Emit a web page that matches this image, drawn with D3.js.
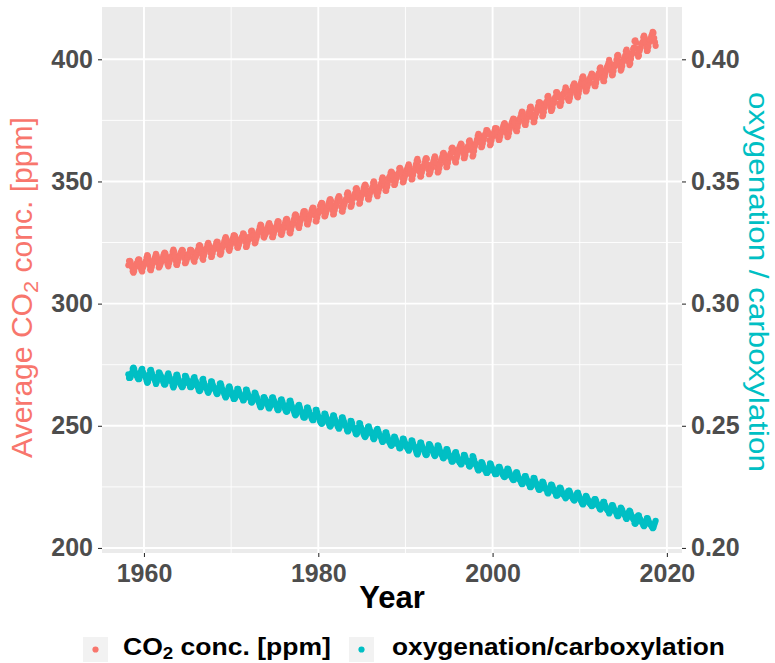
<!DOCTYPE html>
<html>
<head>
<meta charset="utf-8">
<script src="https://cdn.jsdelivr.net/npm/d3@7"></script>
<style>
  html, body { margin: 0; padding: 0; background: #ffffff; }
  svg { display: block; font-family: "Liberation Sans", Arial, Helvetica, sans-serif; }
</style>
</head>
<body>
<svg id="chart" width="775" height="663"></svg>
<script>
// Monthly mean CO2 at Mauna Loa, one row per year, starting March 1958.
const startYear = 1958, startMonth = 3;
const co2Ppm = [
  315.71, 317.45, 317.50, 317.10, 315.86, 314.93, 313.20, 312.66, 313.33, 314.67,
  315.42, 316.31, 316.50, 317.56, 318.13, 318.00, 316.39, 314.65, 313.68, 313.18, 314.66, 315.43,
  316.27, 316.81, 317.42, 318.87, 319.87, 319.43, 318.01, 315.74, 314.00, 313.68, 314.84, 316.03,
  316.73, 317.54, 318.38, 319.31, 320.42, 319.61, 318.42, 316.63, 314.83, 315.16, 315.94, 316.85,
  317.78, 318.40, 319.53, 320.42, 320.85, 320.45, 319.45, 317.25, 316.11, 315.27, 316.53, 317.53,
  318.58, 318.92, 319.70, 321.22, 322.08, 321.31, 319.58, 317.61, 316.05, 315.83, 316.91, 318.20,
  319.41, 320.07, 320.74, 321.40, 322.06, 321.73, 320.27, 318.54, 316.54, 316.71, 317.53, 318.55,
  319.27, 320.28, 320.73, 321.97, 322.00, 321.71, 321.05, 318.71, 317.66, 317.14, 318.70, 319.25,
  320.46, 321.43, 322.23, 323.54, 323.91, 323.59, 322.24, 320.20, 318.48, 317.94, 319.63, 320.87,
  322.17, 322.34, 322.88, 324.25, 324.83, 323.93, 322.38, 320.76, 319.10, 319.24, 320.56, 321.80,
  322.40, 322.99, 323.73, 324.86, 325.40, 325.20, 323.98, 321.95, 320.18, 320.09, 321.16, 322.74,
  323.83, 324.26, 325.47, 326.50, 327.21, 326.54, 325.72, 323.50, 322.22, 321.62, 322.69, 323.95,
  324.89, 325.82, 326.77, 327.97, 327.91, 327.50, 326.18, 324.53, 322.93, 322.90, 323.85, 324.96,
  326.01, 326.51, 327.01, 327.62, 328.76, 328.40, 327.20, 325.27, 323.20, 323.40, 324.63, 325.85,
  326.60, 327.47, 327.58, 329.56, 329.90, 328.92, 327.88, 326.16, 324.68, 325.04, 326.34, 327.39,
  328.37, 329.40, 330.14, 331.33, 332.31, 331.90, 330.70, 329.15, 327.35, 327.02, 327.99, 328.48,
  329.18, 330.55, 331.32, 332.48, 332.92, 332.08, 331.01, 329.23, 327.27, 327.21, 328.29, 329.41,
  330.23, 331.25, 331.87, 333.14, 333.80, 333.43, 331.73, 329.90, 328.40, 328.17, 329.32, 330.59,
  331.58, 332.39, 333.33, 334.41, 334.71, 334.17, 332.89, 330.77, 329.14, 328.78, 330.14, 331.52,
  332.75, 333.24, 334.53, 335.90, 336.57, 336.10, 334.76, 332.59, 331.42, 330.98, 332.24, 333.68,
  334.80, 335.22, 336.47, 337.59, 337.84, 337.72, 336.37, 334.51, 332.60, 332.38, 333.75, 334.78,
  336.05, 336.59, 337.79, 338.71, 339.30, 339.12, 337.56, 335.92, 333.75, 333.70, 335.12, 336.56,
  337.84, 338.19, 339.91, 340.60, 341.29, 341.00, 339.39, 337.43, 335.72, 335.84, 336.93, 338.04,
  339.06, 340.30, 341.21, 342.33, 342.74, 342.08, 340.32, 338.26, 336.52, 336.68, 338.19, 339.44,
  340.57, 341.44, 342.53, 343.39, 343.96, 343.18, 341.88, 339.65, 337.81, 337.69, 339.09, 340.32,
  341.20, 342.35, 342.93, 344.77, 345.58, 345.14, 343.81, 342.21, 339.69, 339.82, 340.98, 342.82,
  343.52, 344.33, 345.11, 346.88, 347.25, 346.62, 345.22, 343.11, 340.90, 341.18, 342.80, 344.04,
  344.79, 345.82, 347.25, 348.17, 348.74, 348.07, 346.38, 344.51, 342.92, 342.62, 344.06, 345.38,
  346.11, 346.78, 347.68, 349.37, 350.03, 349.37, 347.76, 345.73, 344.68, 343.99, 345.48, 346.72,
  347.84, 348.29, 349.23, 350.80, 351.66, 351.07, 349.33, 347.92, 346.27, 346.18, 347.64, 348.78,
  350.25, 351.54, 352.05, 353.41, 354.04, 353.62, 352.22, 350.27, 348.55, 348.72, 349.91, 351.18,
  352.60, 352.92, 353.53, 355.26, 355.52, 354.97, 353.75, 351.52, 349.64, 349.83, 351.14, 352.37,
  353.50, 354.55, 355.23, 356.04, 357.00, 356.07, 354.67, 352.76, 350.82, 351.04, 352.69, 354.07,
  354.59, 355.63, 357.03, 358.48, 359.22, 358.12, 356.06, 353.92, 352.05, 352.11, 353.64, 354.89,
  355.88, 356.63, 357.72, 359.07, 359.58, 359.17, 356.94, 354.92, 352.94, 353.23, 354.09, 355.33,
  356.63, 357.10, 358.32, 359.41, 360.23, 359.55, 357.53, 355.48, 353.67, 353.95, 355.30, 356.78,
  358.34, 358.89, 359.95, 361.25, 361.67, 360.94, 359.55, 357.49, 355.84, 356.00, 357.59, 359.05,
  359.98, 361.03, 361.66, 363.48, 363.82, 363.30, 361.94, 359.50, 358.11, 357.80, 359.61, 360.74,
  362.09, 363.29, 364.06, 364.76, 365.45, 365.01, 363.70, 361.54, 359.51, 359.65, 360.80, 362.38,
  363.23, 364.06, 364.61, 366.40, 366.84, 365.68, 364.52, 362.57, 360.24, 360.83, 362.49, 364.34,
  365.18, 365.98, 367.13, 368.61, 369.49, 368.95, 367.74, 365.79, 364.01, 364.35, 365.52, 366.93,
  368.18, 369.07, 369.68, 370.99, 370.96, 370.30, 369.45, 366.90, 364.81, 365.37, 366.72, 368.10,
  369.29, 369.55, 370.60, 371.82, 371.58, 371.70, 369.86, 368.13, 367.00, 367.03, 368.37, 369.67,
  370.59, 371.51, 372.43, 373.37, 373.85, 373.21, 371.51, 369.61, 368.18, 368.45, 369.76, 371.24,
  372.53, 373.20, 374.12, 375.02, 375.76, 375.52, 374.01, 371.85, 370.75, 370.55, 372.25, 373.79,
  374.88, 375.64, 376.45, 377.73, 378.60, 378.28, 376.70, 374.38, 373.17, 373.14, 374.66, 375.99,
  377.00, 377.87, 378.88, 380.35, 380.62, 379.69, 377.47, 376.01, 374.25, 374.46, 376.16, 377.51,
  378.46, 379.73, 380.77, 382.29, 382.45, 382.21, 380.74, 378.74, 376.70, 377.00, 378.35, 380.11,
  381.38, 382.19, 382.67, 384.61, 385.03, 384.05, 382.46, 380.41, 378.85, 379.13, 380.15, 381.82,
  382.89, 383.90, 384.58, 386.50, 386.56, 386.10, 384.50, 381.99, 380.96, 381.12, 382.45, 383.95,
  385.52, 385.82, 386.03, 387.21, 388.54, 387.76, 386.36, 384.09, 383.18, 382.99, 384.19, 385.56,
  386.94, 387.48, 388.82, 389.55, 390.14, 389.48, 388.03, 386.11, 384.74, 384.43, 386.02, 387.42,
  388.71, 390.20, 391.17, 392.46, 393.00, 392.15, 390.20, 388.35, 386.85, 387.24, 388.67, 389.79,
  391.33, 391.86, 392.60, 393.25, 394.19, 393.74, 392.51, 390.13, 389.08, 389.00, 390.28, 391.86,
  393.12, 393.86, 394.40, 396.18, 396.74, 395.71, 394.36, 392.39, 391.11, 391.05, 392.98, 394.34,
  395.55, 396.80, 397.43, 398.41, 399.78, 398.60, 397.32, 395.20, 393.45, 393.70, 395.16, 396.84,
  397.85, 398.01, 399.77, 401.38, 401.78, 401.25, 399.10, 397.03, 395.38, 396.03, 397.28, 398.91,
  399.98, 400.28, 401.54, 403.28, 403.96, 402.80, 401.31, 398.93, 397.63, 398.29, 400.16, 401.85,
  402.52, 404.04, 404.83, 407.42, 407.70, 406.81, 404.39, 402.25, 401.03, 401.57, 403.53, 404.48,
  406.13, 406.42, 407.18, 409.00, 409.65, 408.84, 407.07, 405.07, 403.38, 403.64, 405.14, 406.82,
  407.96, 408.32, 409.41, 410.24, 411.24, 410.79, 408.71, 406.99, 405.51
];

// Oxygenation / carboxylation ratio for the same months.
const oxyCarbRatio = [
  0.2711, 0.2696, 0.2696, 0.2699, 0.2710, 0.2718, 0.2733, 0.2738, 0.2732, 0.2720,
  0.2714, 0.2706, 0.2705, 0.2695, 0.2691, 0.2692, 0.2706, 0.2720, 0.2729, 0.2733, 0.2720, 0.2714,
  0.2707, 0.2702, 0.2697, 0.2684, 0.2676, 0.2680, 0.2692, 0.2711, 0.2726, 0.2729, 0.2719, 0.2709,
  0.2703, 0.2696, 0.2689, 0.2681, 0.2671, 0.2678, 0.2688, 0.2703, 0.2719, 0.2716, 0.2709, 0.2702,
  0.2694, 0.2688, 0.2679, 0.2671, 0.2668, 0.2671, 0.2680, 0.2698, 0.2708, 0.2715, 0.2704, 0.2696,
  0.2687, 0.2684, 0.2678, 0.2665, 0.2657, 0.2664, 0.2679, 0.2695, 0.2708, 0.2710, 0.2701, 0.2690,
  0.2680, 0.2674, 0.2669, 0.2663, 0.2658, 0.2661, 0.2673, 0.2687, 0.2704, 0.2703, 0.2696, 0.2687,
  0.2681, 0.2673, 0.2669, 0.2659, 0.2658, 0.2661, 0.2666, 0.2686, 0.2695, 0.2699, 0.2686, 0.2681,
  0.2671, 0.2663, 0.2656, 0.2646, 0.2642, 0.2645, 0.2656, 0.2673, 0.2688, 0.2692, 0.2678, 0.2668,
  0.2657, 0.2656, 0.2651, 0.2640, 0.2635, 0.2642, 0.2655, 0.2669, 0.2682, 0.2681, 0.2670, 0.2660,
  0.2655, 0.2650, 0.2644, 0.2635, 0.2630, 0.2632, 0.2642, 0.2659, 0.2673, 0.2674, 0.2665, 0.2652,
  0.2643, 0.2640, 0.2630, 0.2622, 0.2616, 0.2621, 0.2628, 0.2646, 0.2656, 0.2661, 0.2653, 0.2642,
  0.2635, 0.2627, 0.2620, 0.2610, 0.2610, 0.2614, 0.2624, 0.2638, 0.2651, 0.2651, 0.2643, 0.2634,
  0.2626, 0.2622, 0.2618, 0.2613, 0.2604, 0.2606, 0.2616, 0.2632, 0.2648, 0.2647, 0.2637, 0.2627,
  0.2621, 0.2614, 0.2613, 0.2597, 0.2595, 0.2602, 0.2611, 0.2624, 0.2636, 0.2633, 0.2623, 0.2615,
  0.2607, 0.2599, 0.2593, 0.2583, 0.2576, 0.2579, 0.2588, 0.2601, 0.2615, 0.2617, 0.2610, 0.2606,
  0.2600, 0.2590, 0.2584, 0.2574, 0.2571, 0.2578, 0.2586, 0.2600, 0.2615, 0.2616, 0.2607, 0.2599,
  0.2592, 0.2584, 0.2579, 0.2569, 0.2564, 0.2567, 0.2580, 0.2595, 0.2606, 0.2608, 0.2599, 0.2589,
  0.2582, 0.2575, 0.2568, 0.2560, 0.2557, 0.2561, 0.2571, 0.2588, 0.2601, 0.2603, 0.2593, 0.2582,
  0.2572, 0.2569, 0.2559, 0.2548, 0.2543, 0.2547, 0.2557, 0.2574, 0.2583, 0.2586, 0.2576, 0.2565,
  0.2557, 0.2554, 0.2544, 0.2535, 0.2534, 0.2534, 0.2545, 0.2559, 0.2574, 0.2575, 0.2565, 0.2557,
  0.2547, 0.2543, 0.2534, 0.2527, 0.2523, 0.2524, 0.2536, 0.2548, 0.2565, 0.2565, 0.2554, 0.2543,
  0.2534, 0.2531, 0.2518, 0.2513, 0.2508, 0.2510, 0.2522, 0.2537, 0.2550, 0.2549, 0.2540, 0.2532,
  0.2525, 0.2515, 0.2509, 0.2500, 0.2497, 0.2502, 0.2515, 0.2531, 0.2543, 0.2542, 0.2531, 0.2522,
  0.2513, 0.2507, 0.2499, 0.2493, 0.2488, 0.2494, 0.2504, 0.2520, 0.2534, 0.2535, 0.2524, 0.2515,
  0.2509, 0.2500, 0.2496, 0.2483, 0.2477, 0.2480, 0.2490, 0.2501, 0.2520, 0.2519, 0.2510, 0.2497,
  0.2492, 0.2486, 0.2480, 0.2468, 0.2465, 0.2470, 0.2480, 0.2495, 0.2511, 0.2509, 0.2497, 0.2488,
  0.2483, 0.2475, 0.2465, 0.2458, 0.2454, 0.2459, 0.2471, 0.2485, 0.2496, 0.2498, 0.2488, 0.2478,
  0.2473, 0.2468, 0.2462, 0.2450, 0.2445, 0.2450, 0.2461, 0.2476, 0.2483, 0.2488, 0.2478, 0.2469,
  0.2461, 0.2458, 0.2451, 0.2440, 0.2434, 0.2438, 0.2450, 0.2460, 0.2472, 0.2473, 0.2462, 0.2454,
  0.2444, 0.2435, 0.2431, 0.2422, 0.2418, 0.2421, 0.2430, 0.2444, 0.2456, 0.2454, 0.2446, 0.2437,
  0.2428, 0.2425, 0.2421, 0.2409, 0.2408, 0.2411, 0.2420, 0.2435, 0.2448, 0.2447, 0.2438, 0.2429,
  0.2422, 0.2414, 0.2410, 0.2404, 0.2398, 0.2404, 0.2414, 0.2427, 0.2440, 0.2438, 0.2427, 0.2418,
  0.2414, 0.2407, 0.2398, 0.2388, 0.2383, 0.2390, 0.2404, 0.2419, 0.2431, 0.2431, 0.2420, 0.2412,
  0.2405, 0.2400, 0.2393, 0.2384, 0.2380, 0.2383, 0.2398, 0.2412, 0.2425, 0.2423, 0.2417, 0.2409,
  0.2400, 0.2397, 0.2389, 0.2382, 0.2376, 0.2381, 0.2394, 0.2408, 0.2420, 0.2418, 0.2409, 0.2399,
  0.2389, 0.2385, 0.2378, 0.2369, 0.2367, 0.2372, 0.2381, 0.2394, 0.2405, 0.2404, 0.2394, 0.2384,
  0.2378, 0.2371, 0.2367, 0.2355, 0.2353, 0.2356, 0.2365, 0.2381, 0.2390, 0.2392, 0.2380, 0.2373,
  0.2364, 0.2356, 0.2351, 0.2347, 0.2342, 0.2345, 0.2354, 0.2368, 0.2381, 0.2380, 0.2372, 0.2362,
  0.2357, 0.2351, 0.2348, 0.2336, 0.2333, 0.2341, 0.2348, 0.2361, 0.2376, 0.2372, 0.2361, 0.2349,
  0.2344, 0.2339, 0.2332, 0.2322, 0.2317, 0.2320, 0.2328, 0.2340, 0.2351, 0.2349, 0.2342, 0.2333,
  0.2325, 0.2319, 0.2315, 0.2307, 0.2307, 0.2312, 0.2317, 0.2333, 0.2346, 0.2343, 0.2334, 0.2325,
  0.2318, 0.2316, 0.2310, 0.2302, 0.2304, 0.2303, 0.2314, 0.2325, 0.2332, 0.2332, 0.2324, 0.2316,
  0.2310, 0.2304, 0.2298, 0.2293, 0.2290, 0.2294, 0.2304, 0.2316, 0.2325, 0.2323, 0.2315, 0.2306,
  0.2298, 0.2294, 0.2288, 0.2282, 0.2278, 0.2279, 0.2289, 0.2302, 0.2309, 0.2310, 0.2300, 0.2290,
  0.2283, 0.2279, 0.2274, 0.2266, 0.2261, 0.2263, 0.2272, 0.2286, 0.2294, 0.2294, 0.2285, 0.2277,
  0.2271, 0.2265, 0.2259, 0.2250, 0.2249, 0.2254, 0.2268, 0.2276, 0.2287, 0.2286, 0.2276, 0.2267,
  0.2262, 0.2254, 0.2248, 0.2239, 0.2238, 0.2240, 0.2248, 0.2260, 0.2272, 0.2270, 0.2262, 0.2252,
  0.2244, 0.2240, 0.2237, 0.2226, 0.2223, 0.2229, 0.2238, 0.2250, 0.2259, 0.2258, 0.2252, 0.2242,
  0.2236, 0.2230, 0.2226, 0.2215, 0.2214, 0.2217, 0.2226, 0.2241, 0.2247, 0.2246, 0.2238, 0.2229,
  0.2220, 0.2219, 0.2217, 0.2211, 0.2203, 0.2208, 0.2216, 0.2229, 0.2234, 0.2235, 0.2228, 0.2220,
  0.2212, 0.2209, 0.2202, 0.2197, 0.2194, 0.2198, 0.2206, 0.2217, 0.2225, 0.2227, 0.2217, 0.2209,
  0.2202, 0.2194, 0.2188, 0.2181, 0.2178, 0.2183, 0.2194, 0.2204, 0.2213, 0.2210, 0.2202, 0.2196,
  0.2187, 0.2184, 0.2180, 0.2177, 0.2171, 0.2174, 0.2181, 0.2194, 0.2200, 0.2200, 0.2193, 0.2184,
  0.2177, 0.2173, 0.2170, 0.2161, 0.2157, 0.2163, 0.2171, 0.2181, 0.2189, 0.2189, 0.2178, 0.2171,
  0.2164, 0.2157, 0.2154, 0.2149, 0.2141, 0.2147, 0.2154, 0.2166, 0.2175, 0.2174, 0.2166, 0.2157,
  0.2152, 0.2151, 0.2141, 0.2133, 0.2130, 0.2133, 0.2145, 0.2156, 0.2165, 0.2161, 0.2155, 0.2146,
  0.2140, 0.2138, 0.2132, 0.2123, 0.2119, 0.2125, 0.2133, 0.2146, 0.2153, 0.2149, 0.2139, 0.2130,
  0.2127, 0.2119, 0.2114, 0.2101, 0.2099, 0.2104, 0.2117, 0.2128, 0.2134, 0.2132, 0.2121, 0.2116,
  0.2108, 0.2106, 0.2102, 0.2093, 0.2089, 0.2094, 0.2103, 0.2113, 0.2122, 0.2121, 0.2113, 0.2104,
  0.2098, 0.2096, 0.2091, 0.2087, 0.2081, 0.2084, 0.2094, 0.2103, 0.2111
];

const yearTicks = [1960, 1980, 2000, 2020];
const yearMinorTicks = [1970, 1990, 2010];
const co2Ticks = [200, 250, 300, 350, 400];
const co2MinorTicks = [225, 275, 325, 375];
const ratioTicks = [0.20, 0.25, 0.30, 0.35, 0.40];
const seriesLabels = ["CO2 conc. [ppm]", "oxygenation/carboxylation"];

const co2Colour = "#F8766D";
const ratioColour = "#00BFC4";
const secondaryFactor = 1000;          // right axis = left axis / 1000

const svg = d3.select("#chart");
const panel = { left: 102, right: 682, top: 7, bottom: 553 };

const decimalYear = i => startYear + (startMonth - 1 + i + 0.5) / 12;
const co2Points = co2Ppm.map((v, i) => ({ t: decimalYear(i), v }));
const ratioPoints = oxyCarbRatio.map((v, i) => ({ t: decimalYear(i), v }));

// ggplot-style 5% padding around the data range
const expand = ([a, b], f = 0.05) => { const p = (b - a) * f; return [a - p, b + p]; };

const x = d3.scaleLinear()
  .domain(expand(d3.extent(co2Points, d => d.t)))
  .range([panel.left, panel.right]);

const yAll = co2Ppm.concat(oxyCarbRatio.map(r => r * secondaryFactor));
const y = d3.scaleLinear()
  .domain(expand(d3.extent(yAll)))
  .range([panel.bottom, panel.top]);
const yRatio = d3.scaleLinear()
  .domain(y.domain().map(v => v / secondaryFactor))
  .range(y.range());

// panel background and grid
svg.append("rect")
  .attr("x", panel.left).attr("y", panel.top)
  .attr("width", panel.right - panel.left).attr("height", panel.bottom - panel.top)
  .attr("fill", "#EBEBEB");

const grid = svg.append("g").attr("stroke", "#FFFFFF").attr("fill", "none");
grid.selectAll(".ymin").data(co2MinorTicks).join("line")
  .attr("x1", panel.left).attr("x2", panel.right)
  .attr("y1", d => y(d)).attr("y2", d => y(d)).attr("stroke-width", 0.9);
grid.selectAll(".xmin").data(yearMinorTicks).join("line")
  .attr("y1", panel.top).attr("y2", panel.bottom)
  .attr("x1", d => x(d)).attr("x2", d => x(d)).attr("stroke-width", 0.9);
grid.selectAll(".ymaj").data(co2Ticks).join("line")
  .attr("x1", panel.left).attr("x2", panel.right)
  .attr("y1", d => y(d)).attr("y2", d => y(d)).attr("stroke-width", 1.9);
grid.selectAll(".xmaj").data(yearTicks).join("line")
  .attr("y1", panel.top).attr("y2", panel.bottom)
  .attr("x1", d => x(d)).attr("x2", d => x(d)).attr("stroke-width", 1.9);

// points
const pointR = 3.1;
svg.append("g").selectAll("circle").data(co2Points).join("circle")
  .attr("cx", d => x(d.t)).attr("cy", d => y(d.v)).attr("r", pointR)
  .attr("fill", co2Colour);
svg.append("g").selectAll("circle").data(ratioPoints).join("circle")
  .attr("cx", d => x(d.t)).attr("cy", d => yRatio(d.v)).attr("r", pointR)
  .attr("fill", ratioColour);

// axes
function styleAxis(g) {
  g.select(".domain").remove();
  g.selectAll(".tick line").attr("stroke", "#333333").attr("stroke-width", 1.1);
  g.selectAll(".tick text")
    .attr("fill", "#4D4D4D")
    .attr("font-size", 25)
    .attr("font-weight", "bold")
    .attr("font-family", "\"Liberation Sans\", Arial, sans-serif");
}

svg.append("g")
  .attr("transform", `translate(${panel.left},0)`)
  .call(d3.axisLeft(y).tickValues(co2Ticks).tickFormat(d3.format("d")).tickSize(4).tickPadding(5))
  .call(styleAxis);

svg.append("g")
  .attr("transform", `translate(0,${panel.bottom})`)
  .call(d3.axisBottom(x).tickValues(yearTicks).tickFormat(d3.format("d")).tickSize(4).tickPadding(7))
  .call(styleAxis);

svg.append("g")
  .attr("transform", `translate(${panel.right},0)`)
  .call(d3.axisRight(yRatio).tickValues(ratioTicks).tickFormat(d3.format(".2f")).tickSize(4).tickPadding(5))
  .call(styleAxis);

// stretch a text element along its own baseline to a given length
function fitLength(text, target) {
  const len = text.node().getComputedTextLength();
  text.attr("transform", `scale(${target / len},1)`);
}

// axis titles
svg.append("text")
  .attr("x", (panel.left + panel.right) / 2).attr("y", 608)
  .attr("text-anchor", "middle")
  .attr("font-size", 31).attr("font-weight", "bold").attr("fill", "#000000")
  .text("Year");

const leftTitle = svg.append("g")
  .attr("transform", "translate(32,287.5) rotate(-90)")
  .append("text")
  .attr("text-anchor", "middle")
  .attr("font-size", 29).attr("fill", co2Colour);
leftTitle.append("tspan").text("Average CO");
leftTitle.append("tspan").attr("font-size", 21).attr("dy", 6).text("2");
leftTitle.append("tspan").attr("dy", -6).text(" conc. [ppm]");
fitLength(leftTitle, 341);

const rightTitle = svg.append("g")
  .attr("transform", "translate(749,282) rotate(90)")
  .append("text")
  .attr("text-anchor", "middle")
  .attr("font-size", 28).attr("fill", ratioColour)
  .text("oxygenation / carboxylation");
fitLength(rightTitle, 380);

// legend
const legendItems = [
  { label: seriesLabels[0], colour: co2Colour, keyX: 83, textX: 123, width: 208 },
  { label: seriesLabels[1], colour: ratioColour, keyX: 349, textX: 392, width: 333 }
];
const legend = svg.append("g");
legendItems.forEach(item => {
  legend.append("rect")
    .attr("x", item.keyX).attr("y", 637).attr("width", 25).attr("height", 25)
    .attr("fill", "#F2F2F2");
  legend.append("circle")
    .attr("cx", item.keyX + 12.5).attr("cy", 649.5).attr("r", pointR)
    .attr("fill", item.colour);
  const t = legend.append("g")
    .attr("transform", `translate(${item.textX},655)`)
    .append("text")
    .attr("font-size", 24).attr("font-weight", "bold").attr("fill", "#000000");
  if (item.label.startsWith("CO2")) {
    t.append("tspan").text("CO");
    t.append("tspan").attr("font-size", 17).attr("dy", 4).text("2");
    t.append("tspan").attr("dy", -4).text(item.label.slice(3));
  } else {
    t.text(item.label);
  }
  fitLength(t, item.width);
});
</script>
</body>
</html>
